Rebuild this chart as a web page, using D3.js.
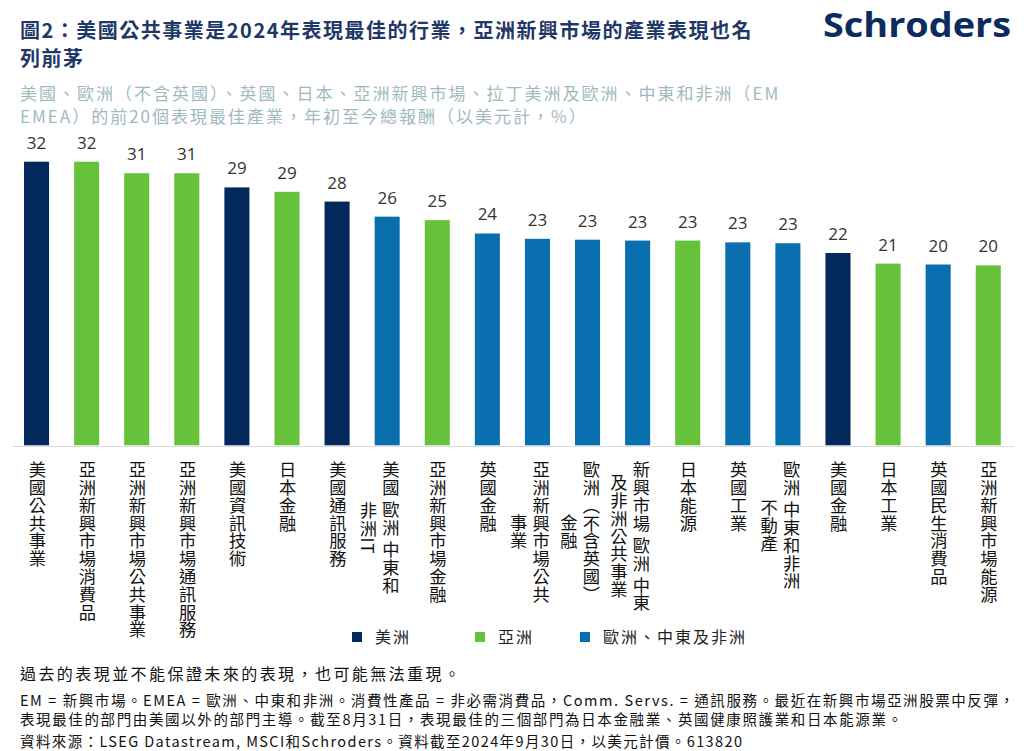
<!DOCTYPE html>
<html><head><meta charset="utf-8">
<script src="https://cdn.jsdelivr.net/npm/d3@7"></script>
<style>
body{margin:0;background:#fff;}
#wrap{position:relative;width:1024px;height:751px;overflow:hidden;font-family:"Noto Sans CJK TC","Noto Sans",sans-serif;}
#wrap svg{position:absolute;left:0;top:0;}
.cat{position:absolute;writing-mode:vertical-rl;text-orientation:mixed;text-align:center;font-size:17.3px;letter-spacing:0.5px;line-height:22.5px;color:#111;white-space:nowrap;font-family:"Noto Sans CJK TC",sans-serif;}
</style></head><body><div id="wrap"></div>
<script>
// ---------- data ----------
const categories = [
  ["美國公共事業"],
  ["亞洲新興市場消費品"],
  ["亞洲新興市場公共事業"],
  ["亞洲新興市場通訊服務"],
  ["美國資訊技術"],
  ["日本金融"],
  ["美國通訊服務"],
  ["美國 歐洲 中東和", "非洲IT"],
  ["亞洲新興市場金融"],
  ["英國金融"],
  ["亞洲新興市場公共", "事業"],
  ["歐洲（不含英國）", "金融"],
  ["新興市場 歐洲 中東", "及非洲公共事業"],
  ["日本能源"],
  ["英國工業"],
  ["歐洲 中東和非洲", "不動產"],
  ["美國金融"],
  ["日本工業"],
  ["英國民生消費品"],
  ["亞洲新興市場能源"]
];
const regions = ["美洲","亞洲","亞洲","亞洲","美洲","亞洲","美洲","歐洲、中東及非洲","亞洲","歐洲、中東及非洲",
  "歐洲、中東及非洲","歐洲、中東及非洲","歐洲、中東及非洲","亞洲","歐洲、中東及非洲","歐洲、中東及非洲","美洲","亞洲","歐洲、中東及非洲","亞洲"];
const values = [32.0, 32.0, 30.7, 30.7, 29.1, 28.6, 27.5, 25.8, 25.4, 23.9, 23.3, 23.2, 23.1, 23.1, 22.9, 22.8, 21.7, 20.5, 20.4, 20.3];
const legendKeys = ["美洲", "亞洲", "歐洲、中東及非洲"];
const regionColors = ["#03295c", "#66c23a", "#0a6fae"];
const titleLines = ["圖2：美國公共事業是2024年表現最佳的行業，亞洲新興市場的產業表現也名", "列前茅"];
const subtitleLines = ["美國、歐洲（不含英國）、英國、日本、亞洲新興市場、拉丁美洲及歐洲、中東和非洲（EM", "EMEA）的前20個表現最佳產業，年初至今總報酬（以美元計，%）"];
const disclaimer = "過去的表現並不能保證未來的表現，也可能無法重現。";
const notes = [
  "EM = 新興市場。EMEA = 歐洲、中東和非洲。消費性產品 = 非必需消費品，Comm. Servs. = 通訊服務。最近在新興市場亞洲股票中反彈，",
  "表現最佳的部門由美國以外的部門主導。截至8月31日，表現最佳的三個部門為日本金融業、英國健康照護業和日本能源業。",
  "資料來源：LSEG Datastream, MSCI和Schroders。資料截至2024年9月30日，以美元計價。613820"
];

// ---------- layout ----------
const W = 1024, H = 751;
const wrap = d3.select("#wrap");
const svg = wrap.append("svg").attr("width", W).attr("height", H);
const cjk = "'Noto Sans CJK TC', 'Noto Sans', sans-serif";

const x = d3.scaleBand().domain(d3.range(values.length)).range([11.5, 1013.3]).paddingInner(0.5).paddingOuter(0.25);
const y = d3.scaleLinear().domain([0, 32]).range([445.3, 161.7]);
const color = d3.scaleOrdinal().domain(legendKeys).range(regionColors);

// title
svg.append("g").selectAll("text").data(titleLines).join("text")
  .attr("x", 20).attr("y", (d, i) => 38 + i * 28)
  .attr("font-family", cjk).attr("font-size", 20).attr("font-weight", 700)
  .attr("letter-spacing", 1.5).attr("fill", "#1f3866").text(d => d);

// subtitle
svg.append("g").selectAll("text").data(subtitleLines).join("text")
  .attr("x", 20).attr("y", (d, i) => 100 + i * 23)
  .attr("font-family", cjk).attr("font-size", 17)
  .attr("letter-spacing", 2).attr("fill", "#9fbabf").text(d => d);

// logo
svg.append("text").attr("x", 823).attr("y", 37)
  .attr("font-family", "'Open Sans', sans-serif").attr("font-weight", 700).attr("font-size", 34)
  .attr("textLength", 188).attr("lengthAdjust", "spacingAndGlyphs")
  .attr("fill", "#0c2b60").text("Schroders");

// axis baseline
const axis = svg.append("g").attr("transform", `translate(0,${y(0) + 0.7})`)
  .call(d3.axisBottom(x).tickSize(0).tickFormat(""));
axis.select(".domain").attr("stroke", "#dcdcdc").attr("stroke-width", 1.2);

// bars
svg.append("g").selectAll("rect").data(values).join("rect")
  .attr("x", (d, i) => x(i)).attr("width", x.bandwidth())
  .attr("y", d => y(d)).attr("height", d => y(0) - y(d))
  .attr("fill", (d, i) => color(regions[i]));

// value labels
const fmt = d3.format(".0f");
svg.append("g").selectAll("text").data(values).join("text")
  .attr("x", (d, i) => x(i) + x.bandwidth() / 2).attr("y", d => y(d) - 13)
  .attr("text-anchor", "middle")
  .attr("font-family", "'Open Sans', sans-serif").attr("font-size", 17)
  .attr("fill", "#333").text(d => fmt(d));

// category labels (vertical text)
const lh = 22.5;
wrap.selectAll("div.cat").data(categories).join("div")
  .attr("class", "cat")
  .style("left", (d, i) => {
    const c = x(i) + x.bandwidth() / 2 + (d.length > 1 ? 3 : 0);
    return (c + lh / 2 - d.length * lh) + "px";
  })
  .style("top", "461px")
  .style("width", d => d.length * lh + "px")
  .html(d => d.join("<br>"));

// legend
const legendX = [352, 475, 580];
const lg = svg.append("g").selectAll("g").data(legendKeys).join("g")
  .attr("transform", (d, i) => `translate(${legendX[i]},632)`);
lg.append("rect").attr("width", 10).attr("height", 10).attr("fill", d => color(d));
lg.append("text").attr("x", 23).attr("y", 10.5)
  .attr("font-family", cjk).attr("font-size", 16).attr("letter-spacing", 2)
  .attr("fill", "#222").text(d => d);

// footer
svg.append("text").attr("x", 20).attr("y", 680)
  .attr("font-family", cjk).attr("font-size", 16)
  .attr("textLength", 440).attr("lengthAdjust", "spacing")
  .attr("fill", "#111").text(disclaimer);

const noteEnds = [1014, 902, 742];
svg.append("g").selectAll("text").data(notes).join("text")
  .attr("x", 20).attr("y", (d, i) => [706, 725, 747][i])
  .attr("font-family", cjk).attr("font-size", 14.5)
  .attr("textLength", (d, i) => noteEnds[i] - 20).attr("lengthAdjust", "spacing")
  .attr("fill", "#111").text(d => d);
</script>
</body></html>
